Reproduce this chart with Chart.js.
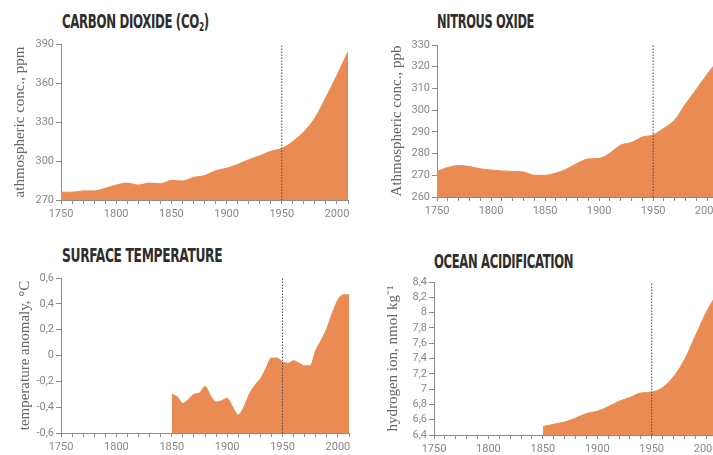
<!DOCTYPE html>
<html>
<head>
<meta charset="utf-8">
<script src="https://cdn.jsdelivr.net/npm/chart.js@4.4.1/dist/chart.umd.min.js"></script>
<style>
  html, body { margin: 0; padding: 0; background: #fff; }
  body { width: 713px; height: 455px; overflow: hidden; position: relative; }
  canvas { position: absolute; }
  .title {
    position: absolute;
    font-family: "DejaVu Sans Condensed", "DejaVu Sans", sans-serif;
    font-weight: bold;
    font-size: 19px;
    color: #2e2e2e;
    white-space: nowrap;
    transform-origin: left top;
    letter-spacing: -0.5px;
  }
  .title sub { font-size: 12px; vertical-align: -3px; }
</style>
</head>
<body>

<div class="title" style="left:62px; top:10px; transform:scaleX(0.69);">CARBON DIOXIDE (CO<sub>2</sub>)</div>
<div class="title" style="left:437px; top:10px; transform:scaleX(0.67);">NITROUS OXIDE</div>
<div class="title" style="left:62px; top:244px; transform:scaleX(0.72);">SURFACE TEMPERATURE</div>
<div class="title" style="left:434px; top:250px; transform:scaleX(0.68);">OCEAN ACIDIFICATION</div>

<canvas id="co2" width="360" height="200" style="left:0; top:30px;"></canvas>
<canvas id="n2o" width="380" height="200" style="left:360px; top:30px;"></canvas>
<canvas id="temp" width="360" height="205" style="left:0; top:250px;"></canvas>
<canvas id="ocean" width="380" height="205" style="left:360px; top:250px;"></canvas>

<script>
'use strict'

// Years on the x axis
var yearsFull = [1750, 1760, 1770, 1780, 1790, 1800, 1810, 1820, 1830, 1840, 1850, 1860, 1870, 1880,
  1890, 1900, 1910, 1920, 1930, 1940, 1950, 1960, 1970, 1980, 1990, 2000, 2010];
var yearsTemp = [1850, 1855, 1860, 1865, 1870, 1875, 1880, 1885, 1890, 1895, 1900, 1905, 1910, 1915,
  1920, 1925, 1930, 1935, 1940, 1945, 1950, 1955, 1960, 1965, 1970, 1975, 1980, 1985, 1990, 1995,
  2000, 2005, 2010];
var yearsOcean = [1850, 1860, 1870, 1880, 1890, 1900, 1910, 1920, 1930, 1940, 1950, 1960, 1970, 1980,
  1990, 2000, 2010];

// Series values
var co2 = [276, 276, 277, 277, 279, 281.5, 283, 281.5, 283, 282.5, 285, 284.6, 287.4, 288.7,
  292.5, 294.4, 297.4, 301, 304, 307.5, 309.7, 315, 322.5, 333, 349, 366, 384];
var n2o = [271.8, 273.6, 274.5, 274, 273, 272.4, 272, 271.8, 271.5, 270, 270, 271, 272.9, 275.6,
  277.5, 277.8, 280.2, 283.9, 285.1, 287.6, 288.6, 291.7, 295.5, 302.8, 309.6, 316.5, 323];
var temp = [-0.30, -0.32, -0.37, -0.34, -0.30, -0.29, -0.24, -0.31, -0.36, -0.35, -0.33, -0.40, -0.46,
  -0.40, -0.30, -0.23, -0.18, -0.10, -0.02, -0.02, -0.05, -0.06, -0.04, -0.06, -0.08, -0.08, 0.04,
  0.12, 0.21, 0.33, 0.43, 0.47, 0.47];
var ocean = [6.51, 6.54, 6.57, 6.62, 6.68, 6.71, 6.77, 6.84, 6.89, 6.95, 6.96, 7.02, 7.16, 7.38,
  7.69, 8.0, 8.25];

// Marker year (dotted line)
var markerYear = 1950;

// Helper: turn years + values into points
function toPoints(xs, ys) {
  return xs.map(function(x, i) { return { x: x, y: ys[i] }; });
}

// Comma decimal labels
function commaLabel(v) {
  var r = Math.round(v * 10) / 10;
  if (Math.abs(r) < 1e-9) return '0';
  return String(r).replace('.', ',');
}

var axisGrey = '#8c8c8c';
var fillOrange = '#ea8b53';

function makeChart(id, cfg) {
  var ctx = document.getElementById(id);
  return new Chart(ctx, {
    type: 'line',
    data: {
      datasets: [{
        data: toPoints(cfg.years, cfg.values),
        borderColor: fillOrange,
        backgroundColor: fillOrange,
        borderWidth: 1,
        pointRadius: 0,
        fill: 'start',
        order: 2,
        cubicInterpolationMode: 'monotone'
      },
      {
        // Dotted vertical line at 1950, drawn over the area
        data: [{ x: markerYear, y: cfg.min }, { x: markerYear, y: cfg.max }],
        borderColor: '#4a4a4a',
        borderWidth: 1,
        borderDash: [1.5, 1.5],
        pointRadius: 0,
        order: 1,
        fill: false
      }]
    },
    options: {
      responsive: false,
      animation: false,
      layout: { padding: cfg.padding },
      plugins: {
        legend: { display: false },
        tooltip: { enabled: false }
      },
      scales: {
        x: {
          type: 'linear',
          min: 1750,
          max: 2010,
          afterFit: function(scale) { scale.height = cfg.xHeight; },
          border: { display: true, color: axisGrey, width: 1 },
          grid: { display: true, drawOnChartArea: false, drawTicks: true, tickLength: 4, color: axisGrey },
          ticks: {
            stepSize: 10,
            autoSkip: false,
            maxRotation: 0,
            padding: 4,
            color: '#888',
            font: { family: 'Roboto', size: 11 },
            callback: function(v) { return v % 50 === 0 ? String(v) : ''; }
          }
        },
        y: {
          min: cfg.min,
          max: cfg.max,
          afterFit: function(scale) { scale.width = cfg.yWidth; },
          border: { display: true, color: axisGrey, width: 1 },
          grid: { display: true, drawOnChartArea: false, drawTicks: true, tickLength: 5, color: axisGrey },
          ticks: {
            stepSize: cfg.step,
            autoSkip: false,
            padding: 2,
            color: '#888',
            font: { family: 'Roboto', size: 11 },
            callback: cfg.label
          },
          title: {
            display: true,
            text: cfg.title,
            color: '#666',
            padding: { top: 4, bottom: 0 },
            font: { family: 'Liberation Serif', size: 15 }
          }
        }
      }
    }
  });
}

makeChart('co2', {
  years: yearsFull, values: co2,
  min: 270, max: 390, step: 30,
  label: function(v) { return String(v); },
  title: 'athmospheric conc., ppm',
  padding: { left: 7, top: 14, right: 12, bottom: 0 },
  yWidth: 54, xHeight: 30
});

makeChart('n2o', {
  years: yearsFull, values: n2o,
  min: 260, max: 330, step: 10,
  label: function(v) { return String(v); },
  title: 'Athmospheric conc., ppb',
  padding: { left: 24, top: 15, right: 22, bottom: 0 },
  yWidth: 53, xHeight: 33
});

makeChart('temp', {
  years: yearsTemp, values: temp,
  min: -0.6, max: 0.6, step: 0.2,
  label: commaLabel,
  title: 'temperature anomaly, °C',
  padding: { left: 12, top: 28, right: 11, bottom: 0 },
  yWidth: 49, xHeight: 22
});

makeChart('ocean', {
  years: yearsOcean, values: ocean,
  min: 6.4, max: 8.4, step: 0.2,
  label: commaLabel,
  title: 'hydrogen ion, nmol kg⁻¹',
  padding: { left: 20, top: 32, right: 23, bottom: 0 },
  yWidth: 54, xHeight: 20
});
</script>
</body>
</html>
